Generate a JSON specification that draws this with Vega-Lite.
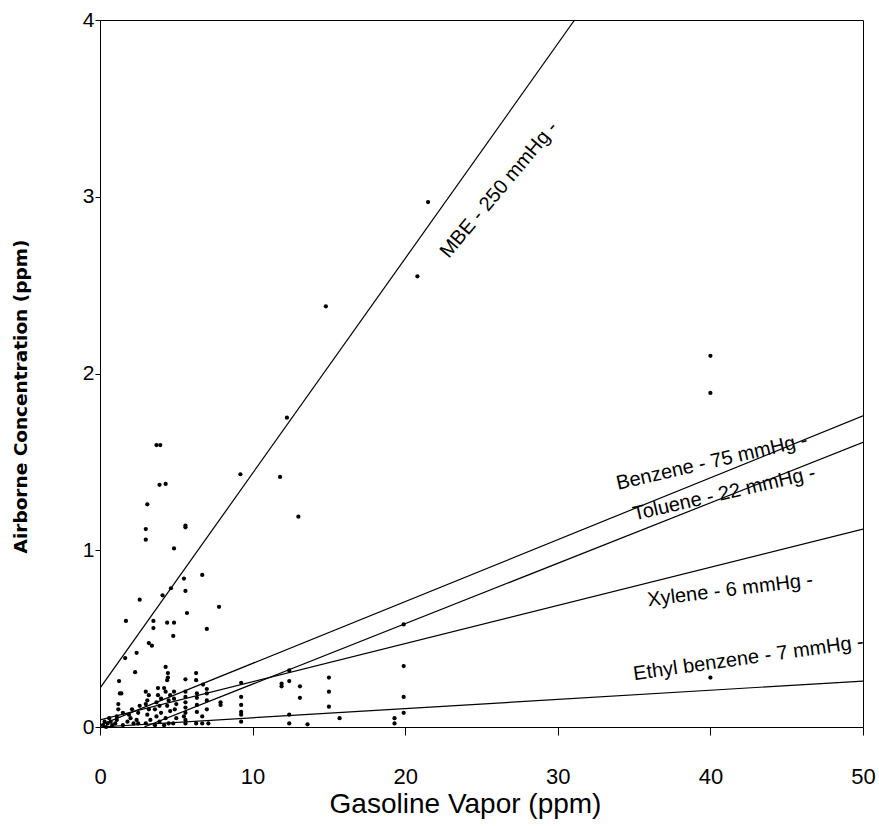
{
  "$schema": "https://vega.github.io/schema/vega-lite/v6.json",
  "width": 763,
  "height": 707,
  "autosize": {"type": "none"},
  "padding": {"left": 100, "top": 20, "right": 16, "bottom": 99},
  "background": "white",
  "config": {
    "view": {"stroke": "black", "strokeWidth": 1},
    "font": "Liberation Sans"
  },
  "datasets": {
    "samples": [
      {"x": 21.5, "y": 2.97}, {"x": 20.8, "y": 2.55}, {"x": 14.8, "y": 2.38},
      {"x": 40.0, "y": 2.10}, {"x": 40.0, "y": 1.89},
      {"x": 12.25, "y": 1.75}, {"x": 3.7, "y": 1.595}, {"x": 3.95, "y": 1.595},
      {"x": 9.2, "y": 1.43}, {"x": 11.8, "y": 1.415},
      {"x": 3.9, "y": 1.37}, {"x": 4.3, "y": 1.375}, {"x": 3.1, "y": 1.26},
      {"x": 13.0, "y": 1.19}, {"x": 3.0, "y": 1.12}, {"x": 5.6, "y": 1.14}, {"x": 5.6, "y": 1.13},
      {"x": 3.0, "y": 1.06}, {"x": 4.85, "y": 1.01}, {"x": 6.7, "y": 0.86}, {"x": 5.5, "y": 0.84},
      {"x": 2.6, "y": 0.72}, {"x": 5.6, "y": 0.77}, {"x": 4.65, "y": 0.785}, {"x": 4.1, "y": 0.745},
      {"x": 7.8, "y": 0.68}, {"x": 5.7, "y": 0.645}, {"x": 1.7, "y": 0.60},
      {"x": 3.5, "y": 0.60}, {"x": 3.5, "y": 0.56}, {"x": 4.4, "y": 0.59}, {"x": 4.85, "y": 0.59},
      {"x": 7.0, "y": 0.555}, {"x": 4.8, "y": 0.515}, {"x": 3.2, "y": 0.475}, {"x": 3.4, "y": 0.46},
      {"x": 2.4, "y": 0.42}, {"x": 1.65, "y": 0.39}, {"x": 2.3, "y": 0.31}, {"x": 4.3, "y": 0.34},
      {"x": 4.45, "y": 0.305}, {"x": 4.45, "y": 0.28}, {"x": 4.4, "y": 0.265},
      {"x": 5.6, "y": 0.27}, {"x": 6.3, "y": 0.305}, {"x": 6.3, "y": 0.265}, {"x": 1.25, "y": 0.26},
      {"x": 6.75, "y": 0.24}, {"x": 9.25, "y": 0.25},
      {"x": 12.4, "y": 0.32}, {"x": 11.9, "y": 0.245}, {"x": 11.9, "y": 0.23}, {"x": 12.4, "y": 0.26},
      {"x": 13.1, "y": 0.23}, {"x": 13.1, "y": 0.165},
      {"x": 15.0, "y": 0.28}, {"x": 15.0, "y": 0.2}, {"x": 15.0, "y": 0.115},
      {"x": 12.4, "y": 0.07}, {"x": 15.7, "y": 0.05}, {"x": 12.4, "y": 0.02}, {"x": 13.6, "y": 0.015},
      {"x": 19.9, "y": 0.58}, {"x": 19.9, "y": 0.345}, {"x": 19.9, "y": 0.17}, {"x": 19.9, "y": 0.08},
      {"x": 19.3, "y": 0.05}, {"x": 19.3, "y": 0.02}, {"x": 40.0, "y": 0.28},
      {"x": 9.25, "y": 0.17}, {"x": 9.25, "y": 0.125}, {"x": 9.25, "y": 0.085}, {"x": 9.25, "y": 0.07}, {"x": 9.25, "y": 0.03},
      {"x": 7.9, "y": 0.14}, {"x": 7.9, "y": 0.125},
      {"x": 7.0, "y": 0.215}, {"x": 7.0, "y": 0.19}, {"x": 7.0, "y": 0.15}, {"x": 7.0, "y": 0.1}, {"x": 7.1, "y": 0.02},
      {"x": 6.35, "y": 0.19}, {"x": 6.35, "y": 0.165}, {"x": 6.35, "y": 0.125}, {"x": 6.35, "y": 0.085}, {"x": 6.3, "y": 0.02},
      {"x": 6.7, "y": 0.06}, {"x": 6.7, "y": 0.02},
      {"x": 5.6, "y": 0.2}, {"x": 5.6, "y": 0.17}, {"x": 5.6, "y": 0.14}, {"x": 5.6, "y": 0.11},
      {"x": 5.6, "y": 0.08}, {"x": 5.6, "y": 0.04}, {"x": 5.6, "y": 0.02}, {"x": 5.5, "y": 0.06},
      {"x": 4.85, "y": 0.2}, {"x": 4.85, "y": 0.16}, {"x": 4.9, "y": 0.1}, {"x": 5.0, "y": 0.05}, {"x": 4.8, "y": 0.02}, {"x": 5.0, "y": 0.13},
      {"x": 4.2, "y": 0.22}, {"x": 4.3, "y": 0.2}, {"x": 4.5, "y": 0.15}, {"x": 4.4, "y": 0.12}, {"x": 4.6, "y": 0.09},
      {"x": 4.3, "y": 0.05}, {"x": 4.5, "y": 0.02}, {"x": 4.2, "y": 0.01}, {"x": 4.6, "y": 0.18},
      {"x": 3.6, "y": 0.1}, {"x": 3.7, "y": 0.14}, {"x": 3.8, "y": 0.22}, {"x": 3.8, "y": 0.18}, {"x": 3.9, "y": 0.12},
      {"x": 3.7, "y": 0.06}, {"x": 3.9, "y": 0.03}, {"x": 4.0, "y": 0.08}, {"x": 3.6, "y": 0.01}, {"x": 4.0, "y": 0.16},
      {"x": 3.0, "y": 0.2}, {"x": 3.1, "y": 0.15}, {"x": 3.0, "y": 0.13}, {"x": 3.2, "y": 0.1}, {"x": 3.1, "y": 0.07},
      {"x": 3.3, "y": 0.04}, {"x": 3.0, "y": 0.02}, {"x": 3.2, "y": 0.18},
      {"x": 2.4, "y": 0.04}, {"x": 2.5, "y": 0.08}, {"x": 2.6, "y": 0.12}, {"x": 2.5, "y": 0.02},
      {"x": 1.8, "y": 0.03}, {"x": 1.9, "y": 0.07}, {"x": 2.0, "y": 0.05}, {"x": 2.1, "y": 0.1}, {"x": 2.2, "y": 0.02},
      {"x": 1.0, "y": 0.02}, {"x": 1.1, "y": 0.06}, {"x": 1.2, "y": 0.1}, {"x": 1.2, "y": 0.13}, {"x": 1.3, "y": 0.19},
      {"x": 1.4, "y": 0.19}, {"x": 1.1, "y": 0.04}, {"x": 1.5, "y": 0.08}, {"x": 1.5, "y": 0.01},
      {"x": 0.2, "y": 0.01}, {"x": 0.3, "y": 0.03}, {"x": 0.5, "y": 0.02}, {"x": 0.6, "y": 0.05},
      {"x": 0.8, "y": 0.01}, {"x": 0.4, "y": 0.0}, {"x": 0.7, "y": 0.03}
    ],
    "fits": [
      {"compound": "MBE", "x": 0, "y": 0.22}, {"compound": "MBE", "x": 31.1, "y": 4.0},
      {"compound": "Benzene", "x": 0, "y": 0.01}, {"compound": "Benzene", "x": 50, "y": 1.76},
      {"compound": "Toluene", "x": 2.9, "y": 0}, {"compound": "Toluene", "x": 50, "y": 1.61},
      {"compound": "Xylene", "x": 0, "y": 0.04}, {"compound": "Xylene", "x": 50, "y": 1.12},
      {"compound": "Ethyl benzene", "x": 0, "y": 0.0}, {"compound": "Ethyl benzene", "x": 50, "y": 0.26}
    ]
  },
  "encoding": {
    "x": {
      "field": "x", "type": "quantitative",
      "scale": {"domain": [0, 50], "nice": false},
      "axis": {
        "title": "Gasoline Vapor (ppm)", "values": [0, 10, 20, 30, 40, 50],
        "grid": false, "domain": false, "tickColor": "black", "tickSize": 8,
        "labelPadding": 31, "labelFontSize": 22, "labelColor": "black",
        "labelFlush": false,
        "titleFontSize": 28, "titleFontWeight": "normal", "titleColor": "black",
        "titleX": 365, "titleAlign": "center",
        "titlePadding": 3
      }
    },
    "y": {
      "field": "y", "type": "quantitative",
      "scale": {"domain": [0, 4], "nice": false},
      "axis": {
        "title": "Airborne Concentration (ppm)", "values": [0, 1, 2, 3, 4],
        "grid": false, "domain": false, "tickColor": "black", "tickSize": 5,
        "labelPadding": 1, "labelFontSize": 21, "labelColor": "black", "labelFlush": false,
        "titleFontSize": 18.5, "titleFontWeight": "bold", "titleColor": "black",
        "titleFont": "DejaVu Sans", "titlePadding": 52, "titleY": 376
      }
    }
  },
  "layer": [
    {
      "data": {"name": "fits"},
      "mark": {"type": "line", "color": "black", "strokeWidth": 1.2, "clip": true},
      "encoding": {"detail": {"field": "compound"}}
    },
    {
      "data": {"name": "samples"},
      "mark": {"type": "point", "filled": true, "color": "black", "size": 18, "opacity": 1}
    },
    {
      "data": {"values": [{"label": "MBE - 250 mmHg -", "x": 26.15, "y": 3.04}]},
      "mark": {"type": "text", "angle": 310, "fontSize": 20, "color": "black", "baseline": "middle", "align": "center"},
      "encoding": {"text": {"field": "label"}}
    },
    {
      "data": {"values": [{"label": "Benzene - 75 mmHg -", "x": 40.1, "y": 1.5}]},
      "mark": {"type": "text", "angle": 347, "fontSize": 20, "color": "black", "baseline": "middle", "align": "center"},
      "encoding": {"text": {"field": "label"}}
    },
    {
      "data": {"values": [{"label": "Toluene - 22 mmHg -", "x": 40.9, "y": 1.32}]},
      "mark": {"type": "text", "angle": 347, "fontSize": 20, "color": "black", "baseline": "middle", "align": "center"},
      "encoding": {"text": {"field": "label"}}
    },
    {
      "data": {"values": [{"label": "Xylene - 6 mmHg -", "x": 41.3, "y": 0.775}]},
      "mark": {"type": "text", "angle": 353, "fontSize": 20, "color": "black", "baseline": "middle", "align": "center"},
      "encoding": {"text": {"field": "label"}}
    },
    {
      "data": {"values": [{"label": "Ethyl benzene - 7 mmHg -", "x": 42.5, "y": 0.39}]},
      "mark": {"type": "text", "angle": 352, "fontSize": 20, "color": "black", "baseline": "middle", "align": "center"},
      "encoding": {"text": {"field": "label"}}
    }
  ]
}
